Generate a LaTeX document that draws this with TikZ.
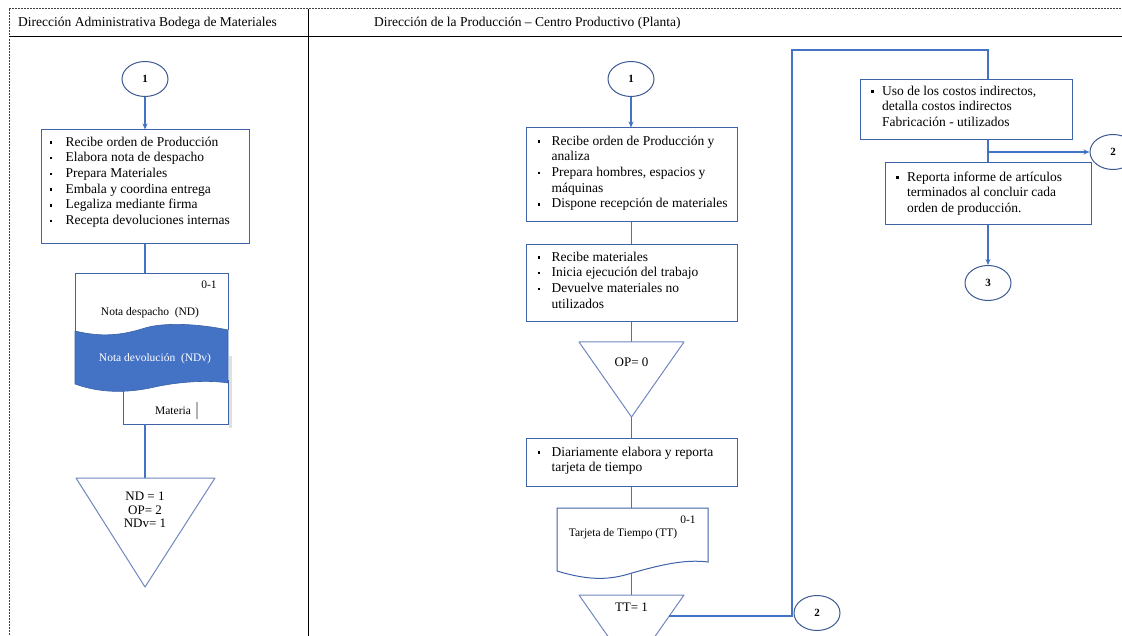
\documentclass[tikz,border=0pt]{standalone}
\usepackage{fontspec}
\setmainfont{Liberation Serif}
\usetikzlibrary{shapes.geometric,arrows.meta}
\definecolor{lineblue}{HTML}{4472C4}
\definecolor{boxblue}{HTML}{3F63A8}
\definecolor{triblue}{HTML}{7088BD}
\definecolor{ellblue}{HTML}{3D5A92}
\definecolor{docfill}{HTML}{4472C4}
\newcommand\bfs{\fontsize{13.5}{15.7}\selectfont}
\newcommand\bl[1]{\strut\makebox[#1][l]{\raisebox{2.4pt}{\rule{2.6pt}{2.6pt}}}}
\newcommand\cl[1]{\strut\hspace*{#1}}
\begin{document}
\begin{tikzpicture}[x=1pt,y=-1pt,
  conn/.style={draw=lineblue, line width=1.2pt},
  arr/.style={conn, -{Stealth[length=6pt,width=5pt]}},
  box/.style={draw=boxblue, line width=1pt, rectangle, inner sep=0pt},
  txt/.style={inner sep=0pt, align=left, font=\bfs, anchor=north west},
  oval/.style={ellipse, draw=ellblue, line width=1pt, minimum width=46pt, minimum height=35pt, inner sep=0pt, font=\fontsize{11}{12}\selectfont\bfseries},
  tri/.style={draw=triblue, line width=1pt, line join=round},
  docline/.style={draw=boxblue, line width=1pt},
  small/.style={inner sep=0pt, font=\fontsize{11.5}{13}\selectfont},
  trit/.style={inner sep=0pt, align=center, font=\fontsize{13}{13.5}\selectfont},
  hdr/.style={inner sep=0pt, font=\bfs, anchor=base west},
  frame/.style={draw=black!75, line width=1pt, dash pattern=on 2pt off 1pt}
]
\useasboundingbox (0,0) rectangle (1122,636);
\clip (0,0) rectangle (1122,636);
\fill[white] (0,0) rectangle (1122,636);

% ---------- frame & header ----------
\draw[frame] (9,9) -- (1122,9);
\draw[frame] (9,9) -- (9,636);
\draw[black, double=white, double distance=0.6pt, line width=0.8pt] (9,37) -- (1122,37);
\draw[black, line width=1pt] (308,9) -- (308,636);
\node[hdr] (h1) at (18,27) {Dirección Administrativa Bodega de Materiales};
\node[hdr] (h2) at (374,27) {Dirección de la Producción – Centro Productivo (Planta)};

% ---------- left column ----------
\node[oval] (e1) at (145,79) {1};
\node[box, minimum width=208pt, minimum height=114pt] (b1) at (145,187) {};
\draw[arr] (e1) -- (b1);
\node[txt] (t1) at (49.5,135) {\bl{16pt}Recibe orden de Producción\\
\bl{16pt}Elabora nota de despacho\\
\bl{16pt}Prepara Materiales\\
\bl{16pt}Embala y coordina entrega\\
\bl{16pt}Legaliza mediante firma\\
\bl{16pt}Recepta devoluciones internas};

\coordinate (mdtop) at (145,274);
\coordinate (mdbot) at (145,424);
\draw[conn] (b1) -- (mdtop);
% shadow
\fill[black!12] (228.5,356) rectangle (231.5,428);
% back document
\draw[docline, fill=white] (123,385) -- (123,424) -- (228,424) -- (228,380);
% blue middle document
\filldraw[fill=docfill, draw=docfill!85!black, line width=0.6pt] (75,331) .. controls (100,337) and (120,336) .. (145,328) .. controls (165,322) and (200,324) .. (228,330) -- (228,383) .. controls (210,380) and (180,381) .. (150,388) .. controls (125,393) and (100,393) .. (75,384) -- cycle;
% front document outline
\draw[docline] (75,331) -- (75,274) -- (228,274) -- (228,330);
\node[small] (d01) at (209,285) {0-1};
\node[small] (dnd) at (150,313) {Nota despacho\ \ (ND)};
\node[small, text=white] (dndv) at (155,359) {Nota devolución\ \ (NDv)};
\node[small] (dmat) at (173,411) {Materia};
\draw[black!30, line width=1.2pt] (197,402) -- (197,419);

\coordinate (t1top) at (145,478);
\draw[conn] (mdbot) -- (t1top);
\draw[tri] (76,478) -- (215,478) -- (145,587) -- cycle;
\node[trit] (t1txt) at (145,510) {ND = 1\\OP= 2\\NDv= 1};

% ---------- right column ----------
\node[oval] (e2) at (631,79) {1};
\node[box, minimum width=211pt, minimum height=94pt] (b2) at (631.5,175) {};
\draw[arr] (e2) -- (e2 |- b2.north);
\node[txt] (t2) at (537.5,134) {\bl{14pt}Recibe orden de Producción y\\
\cl{14pt}analiza\\
\bl{14pt}Prepara hombres, espacios y\\
\cl{14pt}máquinas\\
\bl{14pt}Dispone recepción de materiales};

\node[box, minimum width=211pt, minimum height=77pt] (b3) at (631.5,283.5) {};
\draw[conn] (b2) -- (b3);
\node[txt] (t3) at (537.5,250) {\bl{14pt}Recibe materiales\\
\bl{14pt}Inicia ejecución del trabajo\\
\bl{14pt}Devuelve materiales no\\
\cl{14pt}utilizados};

\coordinate (t2top) at (631.5,342);
\coordinate (t2bot) at (631.5,417);
\draw[conn] (b3) -- (t2top);
\draw[tri] (579,342) -- (684,342) -- (631.5,417) -- cycle;
\node[trit] (t2txt) at (631.5,362) {OP= 0};

\node[box, minimum width=211pt, minimum height=48pt] (b4) at (631.5,462) {};
\draw[conn] (t2bot) -- (b4);
\node[txt] (t4) at (537.5,445) {\bl{14pt}Diariamente elabora y reporta\\
\cl{14pt}tarjeta de tiempo};

\coordinate (ttop) at (631.5,508);
\coordinate (tbot) at (631.5,573);
\draw[conn] (b4) -- (ttop);
\draw[docline, fill=white] (557,508) -- (708,508) -- (708,562) .. controls (685,559) and (660,565) .. (632,573) .. controls (610,580) and (590,581) .. (557,571) -- cycle;
\node[small] (tt01) at (688,520) {0-1};
\node[small] (tttxt) at (623,534) {Tarjeta de Tiempo (TT)};

\coordinate (t3top) at (631.5,595);
\draw[conn] (tbot) -- (t3top);
\draw[tri] (579,595) -- (684,595) -- (631.5,670) -- cycle;
\node[trit] (t3txt) at (631.5,607) {TT= 1};

\coordinate (ttr) at (669.3,616);
\coordinate (k1) at (792,50);

\node[box, minimum width=212pt, minimum height=60pt] (b5) at (966,110) {};
\node[txt] (t5) at (871,84) {\bl{11pt}Uso de los costos indirectos,\\
\cl{11pt}detalla costos indirectos\\
\cl{11pt}Fabricación - utilizados};

\node[box, minimum width=206pt, minimum height=62pt] (b6) at (988,194) {};
\node[txt] (t6) at (896,170) {\bl{11pt}Reporta informe de artículos\\
\cl{11pt}terminados al concluir cada\\
\cl{11pt}orden de producción.};

\draw[conn] (ttr) -| (k1) -| (b5.north -| b6.north);
\draw[conn] (b5.south -| b6.north) -- (b6.north);
\coordinate (br) at (988,152);
\node[oval] (e4) at (1113,152) {2};
\draw[arr] (br) -- (e4);
\node[oval] (e5) at (988,283) {3};
\draw[arr] (b6) -- (e5);
\node[oval] (e6) at (817,613) {2};
\end{tikzpicture}
\end{document}
